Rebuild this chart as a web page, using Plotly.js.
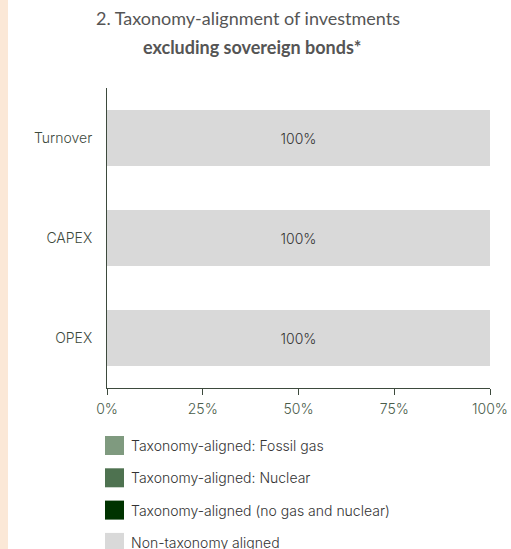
<!DOCTYPE html>
<html>
<head>
<meta charset="utf-8">
<script src="https://cdn.plot.ly/plotly-3.0.1.min.js"></script>
<style>
html,body{margin:0;padding:0;}
body{background:linear-gradient(to right,#fbe8d7 0px,#fbe8d7 8px,#ffffff 8px);}
#chart{width:511px;height:549px;}
</style>
</head>
<body>
<div id="chart"></div>
<script>
const categories = ["Turnover", "CAPEX", "OPEX"];
const seriesNames = [
  "Taxonomy-aligned: Fossil gas",
  "Taxonomy-aligned: Nuclear",
  "Taxonomy-aligned (no gas and nuclear)",
  "Non-taxonomy aligned"
];
const fossilGas = [0, 0, 0];
const nuclear = [0, 0, 0];
const alignedNoGasNuclear = [0, 0, 0];
const nonAligned = [100, 100, 100];
const seriesColors = ["#7f9a7f", "#4e7250", "#003300", "#d9d9d9"];
const xTicks = [0, 25, 50, 75, 100];
const titleLine1 = "2. Taxonomy-alignment of investments";
const titleLine2 = "excluding sovereign bonds*";

const W = 511, H = 549;
const M = {l: 107, r: 21, t: 88, b: 161};
const pw = W - M.l - M.r, ph = H - M.t - M.b;
const px2x = p => (p - M.l) / pw;
const py2y = p => (H - M.b - p) / ph;

const seriesValues = [fossilGas, nuclear, alignedNoGasNuclear, nonAligned];
const traces = seriesValues.map((vals, i) => ({
  type: "bar",
  orientation: "h",
  name: seriesNames[i],
  y: categories,
  x: vals,
  width: 0.56,
  marker: {color: seriesColors[i]},
  text: vals.map(v => v > 0 ? v + "%" : ""),
  textposition: "inside",
  insidetextanchor: "middle",
  textfont: {family: "Inter, Roboto, sans-serif", size: 14, color: "#333333", weight: 300},
  showlegend: false,
  hoverinfo: "skip"
}));

// Legend drawn as squares + labels
const shapes = [];
const annotations = [];
const legendTop = 436, legendStep = 32.3, sq = 19, sqLeft = 105;
seriesNames.forEach((n, i) => {
  const y0 = legendTop + i * legendStep;
  shapes.push({
    type: "rect", xref: "paper", yref: "paper",
    x0: px2x(sqLeft), x1: px2x(sqLeft + sq),
    y0: py2y(y0 + sq), y1: py2y(y0),
    fillcolor: seriesColors[i], line: {width: 0}
  });
  annotations.push({
    xref: "paper", yref: "paper",
    x: px2x(sqLeft + sq + 5), y: py2y(y0 + sq / 2),
    xanchor: "left", yanchor: "middle",
    text: n, showarrow: false,
    font: {family: "Inter, Roboto, sans-serif", size: 14, color: "#333333", weight: 300}
  });
});

// Second (bold) title line
annotations.push({
  xref: "paper", yref: "paper",
  x: px2x(252), y: py2y(47),
  xanchor: "center", yanchor: "middle",
  text: "<b>" + titleLine2 + "</b>", showarrow: false,
  font: {family: "Lato, 'Open Sans', sans-serif", size: 18, color: "#555555"}
});

const layout = {
  width: W, height: H,
  margin: M,
  barmode: "stack",
  paper_bgcolor: "rgba(0,0,0,0)",
  plot_bgcolor: "#ffffff",
  title: {
    text: titleLine1,
    font: {family: "Lato, 'Open Sans', sans-serif", size: 18, color: "#555555"},
    x: 248 / W, xanchor: "center", xref: "container",
    y: 1 - 19 / H, yanchor: "middle", yref: "container"
  },
  xaxis: {
    range: [0, 100],
    tickvals: xTicks,
    ticktext: xTicks.map(v => v + "%"),
    ticks: "outside", ticklen: 6, tickcolor: "#3d4a3d", tickwidth: 1,
    ticklabelstandoff: 2,
    showline: true, linecolor: "#3d4a3d", linewidth: 1,
    showgrid: false, zeroline: false,
    tickfont: {family: "Inter, Roboto, sans-serif", size: 14, color: "#4a5c4a", weight: 300},
    fixedrange: true
  },
  yaxis: {
    categoryorder: "array", categoryarray: categories,
    autorange: false,
    range: [2.5, -0.5],
    showline: true, linecolor: "#3d4a3d", linewidth: 1,
    ticks: "outside", ticklen: 11, tickcolor: "rgba(0,0,0,0)",
    showgrid: false, zeroline: false,
    tickfont: {family: "Inter, Roboto, sans-serif", size: 14, color: "#3d4a3d", weight: 300},
    fixedrange: true
  },
  shapes: shapes,
  annotations: annotations,
  showlegend: false
};

Plotly.newPlot("chart", traces, layout, {displayModeBar: false, staticPlot: true});
</script>
</body>
</html>
